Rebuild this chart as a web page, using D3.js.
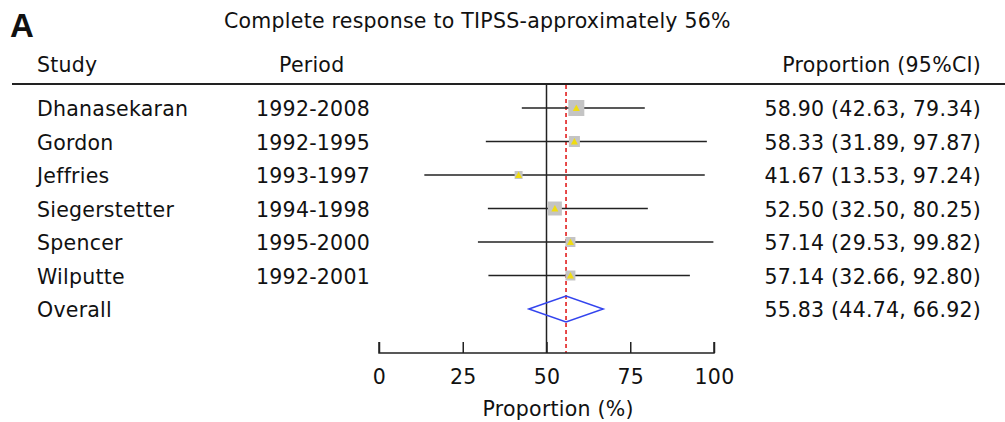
<!DOCTYPE html>
<html>
<head>
<meta charset="utf-8">
<script src="https://cdn.jsdelivr.net/npm/d3@7"></script>
<style>
  html, body { margin: 0; padding: 0; background: #fff; }
  svg { display: block; }
  text { font-family: "DejaVu Sans", Verdana, sans-serif; fill: #111; letter-spacing: 0.25px; }
</style>
</head>
<body>
<svg id="chart" width="1005" height="422"></svg>
<script>
// Study-level proportions of complete response with 95% confidence intervals
const studies  = ["Dhanasekaran", "Gordon", "Jeffries", "Siegerstetter", "Spencer", "Wilputte"];
const periods  = ["1992-2008", "1992-1995", "1993-1997", "1994-1998", "1995-2000", "1992-2001"];
const estimate = [58.90, 58.33, 41.67, 52.50, 57.14, 57.14];
const lower    = [42.63, 31.89, 13.53, 32.50, 29.53, 32.66];
const upper    = [79.34, 97.87, 97.24, 80.25, 99.82, 92.80];
const weights  = [30.6, 14.5, 7.6, 23.4, 11.9, 11.9];

// Pooled estimate
const overall = { label: "Overall", est: 55.83, lo: 44.74, hi: 66.92 };

const axisTicks = [0, 25, 50, 75, 100];
const nullValue = 50;

const svg = d3.select("#chart");
const fs = 20.5;

const x = d3.scaleLinear().domain([0, 100]).range([379, 714]);
const y = d3.scalePoint().domain([...studies, overall.label]).range([108, 309]);
const box = d3.scaleSqrt().domain([0, d3.max(weights)]).range([0, 16]);

const fmt = d3.format(".2f");

// Panel letter and title
svg.append("text").attr("x", 10).attr("y", 37)
  .style("font-family", "Arial, 'Liberation Sans', sans-serif")
  .style("letter-spacing", "0px")
  .style("font-weight", "bold").style("font-size", "33px").text("A");
svg.append("text").attr("x", 224).attr("y", 28)
  .style("font-size", fs + "px").text("Complete response to TIPSS-approximately 56%");

// Column headers
svg.append("text").attr("x", 37).attr("y", 72).style("font-size", fs + "px").text("Study");
svg.append("text").attr("x", 279).attr("y", 72).style("font-size", fs + "px").text("Period");
svg.append("text").attr("x", 981).attr("y", 72).attr("text-anchor", "end")
  .style("font-size", fs + "px").text("Proportion (95%CI)");

svg.append("line").attr("x1", 12).attr("x2", 1005).attr("y1", 84).attr("y2", 84)
  .attr("stroke", "#222").attr("stroke-width", 2);

const plotTop = 85, plotBottom = 353;

// Line of no effect at 50% and pooled estimate reference
svg.append("line").attr("x1", x(nullValue)).attr("x2", x(nullValue))
  .attr("y1", plotTop).attr("y2", plotBottom)
  .attr("stroke", "#222").attr("stroke-width", 1.5);
svg.append("line").attr("x1", x(overall.est)).attr("x2", x(overall.est))
  .attr("y1", plotTop).attr("y2", plotBottom)
  .attr("stroke", "#e01010").attr("stroke-width", 1.5).attr("stroke-dasharray", "4,3");

const rows = studies.map((s, i) => ({
  study: s, period: periods[i], est: estimate[i], lo: lower[i], hi: upper[i], w: weights[i]
}));

const g = svg.append("g");
const row = g.selectAll("g.row").data(rows).join("g").attr("class", "row");

row.append("text").attr("x", 37).attr("y", d => y(d.study) + 8)
  .style("font-size", fs + "px").text(d => d.study);
row.append("text").attr("x", 256).attr("y", d => y(d.study) + 8)
  .style("font-size", fs + "px").text(d => d.period);
row.append("text").attr("x", 981).attr("y", d => y(d.study) + 8).attr("text-anchor", "end")
  .style("font-size", fs + "px")
  .text(d => `${fmt(d.est)} (${fmt(d.lo)}, ${fmt(d.hi)})`);

// Confidence intervals
row.append("line")
  .attr("x1", d => x(d.lo)).attr("x2", d => x(d.hi))
  .attr("y1", d => y(d.study)).attr("y2", d => y(d.study))
  .attr("stroke", "#222").attr("stroke-width", 1.5);

// Weighted boxes
row.append("rect")
  .attr("x", d => x(d.est) - box(d.w) / 2)
  .attr("y", d => y(d.study) - box(d.w) / 2)
  .attr("width", d => box(d.w)).attr("height", d => box(d.w))
  .attr("fill", "#c4c4c4");

// Point estimate marker
row.append("path")
  .attr("transform", d => `translate(${x(d.est)},${y(d.study)})`)
  .attr("d", "M0,-3.5L3.5,3L-3.5,3Z")
  .attr("fill", "#f0dc10");

// Overall row
svg.append("text").attr("x", 37).attr("y", y(overall.label) + 8)
  .style("font-size", fs + "px").text(overall.label);
svg.append("text").attr("x", 981).attr("y", y(overall.label) + 8).attr("text-anchor", "end")
  .style("font-size", fs + "px")
  .text(`${fmt(overall.est)} (${fmt(overall.lo)}, ${fmt(overall.hi)})`);

const yc = y(overall.label), dh = 13;
svg.append("path")
  .attr("d", `M${x(overall.lo)},${yc}L${x(overall.est)},${yc - dh}L${x(overall.hi)},${yc}L${x(overall.est)},${yc + dh}Z`)
  .attr("fill", "none").attr("stroke", "#3344ee").attr("stroke-width", 1.5);

// Axis
const axis = d3.axisTop(x).tickValues(axisTicks).tickSize(11).tickFormat(d3.format("d"));
const ax = svg.append("g").attr("transform", `translate(0,${plotBottom})`).call(axis);
ax.select(".domain").attr("stroke", "#222").attr("stroke-width", 1.5)
  .attr("d", `M${x(0)},-11V0H${x(100)}V-11`);
ax.selectAll(".tick line").attr("stroke", "#222").attr("stroke-width", 1.5);
ax.selectAll(".tick text").attr("y", 31).attr("dy", 0)
  .style("font-size", fs + "px").style("font-family", "'DejaVu Sans', Verdana, sans-serif").attr("fill", "#111");

svg.append("text").attr("x", x(53.5)).attr("y", 416).attr("text-anchor", "middle")
  .style("font-size", fs + "px").text("Proportion (%)");
</script>
</body>
</html>
